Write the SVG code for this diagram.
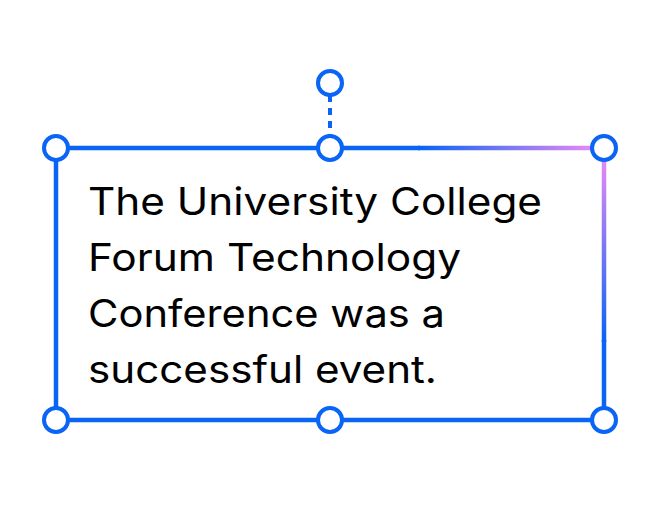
<svg xmlns="http://www.w3.org/2000/svg" width="660" height="508" viewBox="0 0 660 508">
<defs>
<linearGradient id="gt" gradientUnits="userSpaceOnUse" x1="420" y1="0" x2="604" y2="0"><stop offset="0" stop-color="#0A64F5"/><stop offset="1" stop-color="#F38CF5"/></linearGradient>
<linearGradient id="gr" gradientUnits="userSpaceOnUse" x1="0" y1="148" x2="0" y2="340"><stop offset="0" stop-color="#F38CF5"/><stop offset="1" stop-color="#0A64F5"/></linearGradient>
<style>.e{fill:none;stroke-width:4.5}.h{fill:#fff;stroke:#0A64F5;stroke-width:4}text{font-family:Inter,"Liberation Sans",sans-serif;font-size:38px;fill:#000}</style>
</defs>
<rect width="660" height="508" fill="#fff"/>
<g id="connectors">
<line x1="330" y1="95" x2="330" y2="136" stroke="#0A64F5" stroke-width="4" stroke-dasharray="7,6"/>
</g>
<g id="box">
<path class="e" stroke="#0A64F5" d="M604 340V420H56V148H420"/>
<line class="e" stroke="url(#gt)" x1="418" y1="148" x2="604" y2="148"/>
<line class="e" stroke="url(#gr)" x1="604" y1="148" x2="604" y2="342"/>
<text x="88" y="215" textLength="454" lengthAdjust="spacingAndGlyphs">The University College</text>
<text x="88" y="271" textLength="373" lengthAdjust="spacingAndGlyphs">Forum Technology</text>
<text x="88" y="327" textLength="357" lengthAdjust="spacingAndGlyphs">Conference was a</text>
<text x="88" y="383" textLength="349" lengthAdjust="spacingAndGlyphs">successful event.</text>
</g>
<g id="handles">
<circle class="h" cx="330" cy="83" r="12"/>
<circle class="h" cx="56" cy="148" r="12"/>
<circle class="h" cx="330" cy="148" r="12"/>
<circle class="h" cx="604" cy="148" r="12" stroke="#F38CF5"/>
<circle class="h" cx="56" cy="420" r="12"/>
<circle class="h" cx="330" cy="420" r="12"/>
<circle class="h" cx="604" cy="420" r="12"/>
</g>
</svg>
